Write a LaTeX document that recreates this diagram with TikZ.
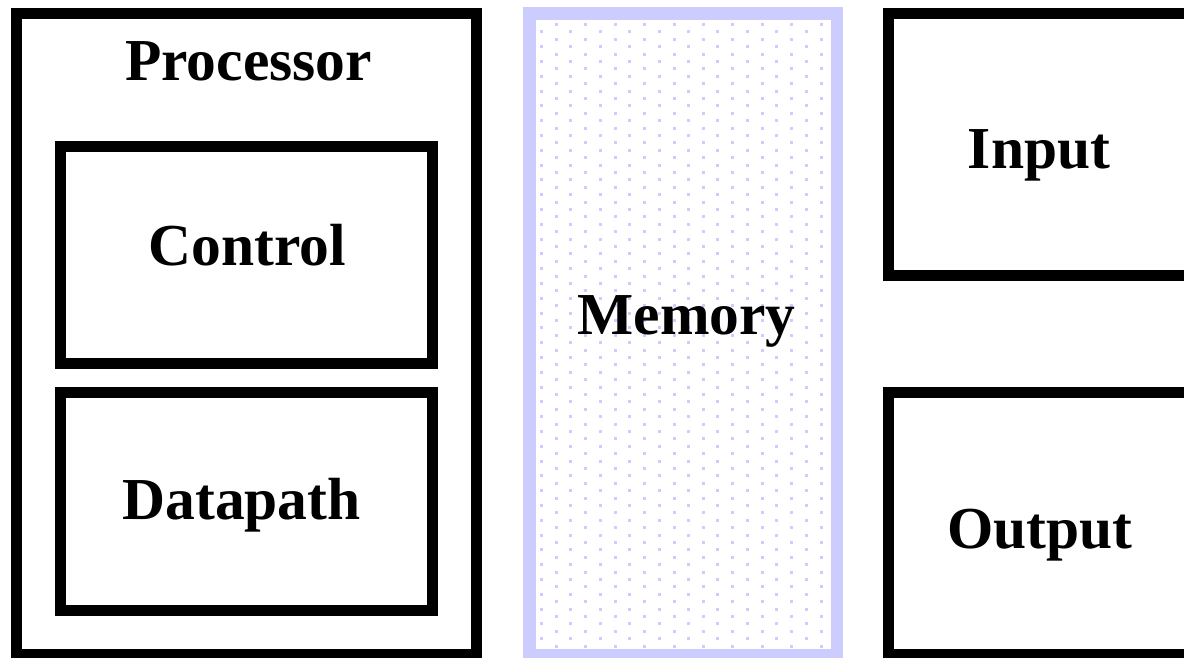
\documentclass[tikz,border=0pt]{standalone}
\usepackage{fontspec}
\setmainfont{Liberation Serif}
\definecolor{memblue}{HTML}{CCCCFF}
\tikzset{
  blkbox/.style={draw=black, line width=11pt, fill=none, rectangle, inner sep=0pt},
  membox/.style={draw=memblue, line width=12.5pt, rectangle, inner sep=0pt},
  lbl/.style={anchor=base, inner sep=0pt, font=\fontsize{59.5}{60}\selectfont\bfseries},
  memdot/.style={fill=memblue}
}
\begin{document}
\begin{tikzpicture}[x=1pt,y=-1pt]
\useasboundingbox[fill=white] (0,0) rectangle (1184,657);
% memory dots
\begin{scope}
  \clip (537,19) rectangle (831,649);
  \foreach \k in {0,...,42}{
    \foreach \j in {0,...,9}{
      \fill[memdot] ({556.5+29.4*\j-1.5},{24.5+14.8*\k-1.5}) rectangle ++(3,3);
      \fill[memdot] ({541.5+29.4*\j-1.5},{31.9+14.8*\k-1.5}) rectangle ++(3,3);
    }
  }
\end{scope}
% boxes
\node[blkbox, minimum width=460pt, minimum height=641pt] (proc) at (246.5,334) {};
\node[blkbox, minimum width=372pt, minimum height=216.5pt] (ctrl) at (246.5,255.2) {};
\node[blkbox, minimum width=372pt, minimum height=218pt] (dp) at (246.5,501.5) {};
\node[membox, minimum width=307.5pt, minimum height=642pt] (mem) at (683.25,334.5) {};
\node[blkbox, minimum width=301.5pt, minimum height=262pt] (in) at (1039.25,144.5) {};
\node[blkbox, minimum width=301.5pt, minimum height=262pt] (out) at (1039.25,523.5) {};
% labels
\node[lbl] (proclbl) at (248.5,80.7) {Processor};
\node[lbl] (ctrllbl) at (247.5,265) {Control};
\node[lbl] (dplbl) at (241.5,519) {Datapath};
\node[lbl] (memlbl) at (686.5,334) {Memory};
\node[lbl] (inlbl) at (1039,168) {Input};
\node[lbl] (outlbl) at (1040,548) {Output};
\end{tikzpicture}
\end{document}
